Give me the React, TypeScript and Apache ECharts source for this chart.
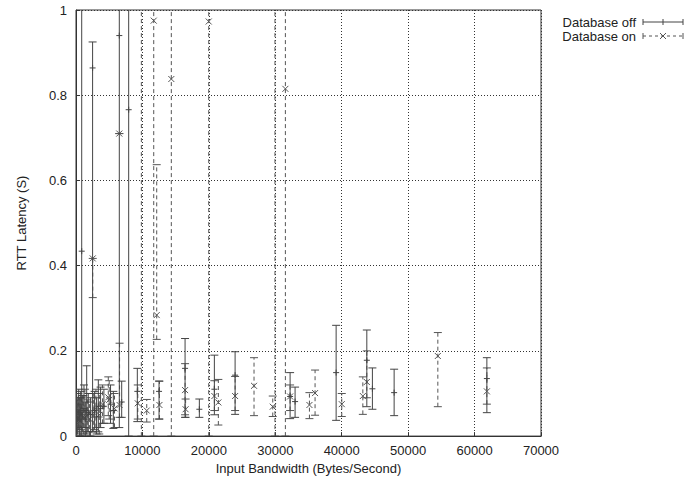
import React, { useEffect, useRef } from "react";
import * as echarts from "echarts";

// [bandwidth (bytes/s), mean RTT (s), low (s), high (s)]
const dbOffPoints: number[][] = [
  [100, 0.05, 0.01, 0.1],
  [250, 0.04, 0.005, 0.085],
  [400, 0.055, 0.015, 0.11],
  [550, 0.045, 0.0, 0.09],
  [700, 0.06, 0.02, 0.105],
  [860, 0.434, 0.0, 1.3],
  [950, 0.05, 0.01, 0.095],
  [1200, 0.065, 0.02, 0.12],
  [1400, 0.04, 0.0, 0.08],
  [1610, 0.06, 0.005, 0.165],
  [1850, 0.055, 0.01, 0.1],
  [2200, 0.05, 0.0, 0.09],
  [2500, 0.864, 0.01, 0.925],
  [2800, 0.06, 0.015, 0.105],
  [3100, 0.045, 0.005, 0.09],
  [3360, 0.07, 0.01, 0.132],
  [3700, 0.065, 0.02, 0.115],
  [4200, 0.07, 0.03, 0.11],
  [5200, 0.075, 0.03, 0.12],
  [5620, 0.06, 0.018, 0.105],
  [6520, 0.94, 0.02, 1.3],
  [6880, 0.08, 0.044, 0.129],
  [7930, 0.766, 0.0, 1.3],
  [9230, 0.105, 0.034, 0.159],
  [12500, 0.105, 0.04, 0.129],
  [16420, 0.159, 0.044, 0.229],
  [18570, 0.063, 0.044, 0.087],
  [20830, 0.11, 0.05, 0.19],
  [23950, 0.143, 0.051, 0.198],
  [32230, 0.093, 0.041, 0.149],
  [32980, 0.081, 0.044, 0.115],
  [39160, 0.149, 0.037, 0.26],
  [43780, 0.178, 0.069, 0.249],
  [44620, 0.111, 0.063, 0.16],
  [47890, 0.102, 0.048, 0.157],
  [61850, 0.135, 0.055, 0.184],
];

const dbOnPoints: number[][] = [
  [150, 0.04, 0.0, 0.09],
  [350, 0.06, 0.02, 0.1],
  [600, 0.035, 0.0, 0.075],
  [800, 0.05, 0.015, 0.09],
  [1100, 0.045, 0.005, 0.095],
  [1350, 0.06, 0.02, 0.11],
  [1700, 0.05, 0.01, 0.085],
  [2050, 0.04, 0.0, 0.08],
  [2520, 0.417, 0.325, 0.417],
  [2600, 0.055, 0.01, 0.1],
  [3000, 0.065, 0.02, 0.11],
  [3500, 0.05, 0.005, 0.1],
  [4000, 0.075, 0.03, 0.12],
  [4860, 0.091, 0.048, 0.139],
  [5000, 0.085, 0.04, 0.13],
  [5800, 0.065, 0.02, 0.1],
  [6520, 0.71, 0.71, 0.71],
  [6560, 0.073, 0.044, 0.218],
  [9300, 0.077, 0.04, 0.12],
  [9840, 1.1, 0.0, 1.3],
  [10650, 0.06, 0.033, 0.086],
  [11700, 0.975, 0.0, 1.3],
  [12150, 0.284, 0.227, 0.637],
  [12560, 0.073, 0.04, 0.129],
  [14350, 0.838, 0.0, 1.3],
  [16420, 0.108, 0.05, 0.17],
  [16500, 0.063, 0.044, 0.087],
  [19980, 0.973, 0.0, 1.3],
  [20830, 0.094, 0.06, 0.13],
  [21430, 0.079, 0.026, 0.133],
  [23950, 0.094, 0.06, 0.14],
  [26800, 0.118, 0.048, 0.184],
  [29620, 0.069, 0.046, 0.094],
  [29950, 1.1, 0.0, 1.3],
  [31520, 0.815, 0.0, 1.3],
  [32230, 0.093, 0.06, 0.12],
  [35140, 0.073, 0.041, 0.102],
  [35990, 0.101, 0.049, 0.155],
  [40010, 0.075, 0.046, 0.1],
  [43180, 0.094, 0.051, 0.139],
  [43780, 0.127, 0.09, 0.2],
  [54470, 0.188, 0.069, 0.243],
  [61850, 0.105, 0.075, 0.16],
];

const xTicks = [0, 10000, 20000, 30000, 40000, 50000, 60000, 70000];
const yTicks = [0, 0.2, 0.4, 0.6, 0.8, 1];
const seriesNames = ["Database off", "Database on"];

const FONT = "'Liberation Sans', Arial, Helvetica, sans-serif";
const OFF_COLOR = "#444";
const ON_COLOR = "#555";

function makeRender(kind: "off" | "on", color: string) {
  return (params: any, api: any) => {
    const x = api.value(0);
    const m = api.value(1);
    const lo = api.value(2);
    const hi = api.value(3);
    const cs = params.coordSys;
    const top = cs.y;
    const bottom = cs.y + cs.height;
    const pLo = api.coord([x, lo]);
    const pHi = api.coord([x, hi]);
    const pM = api.coord([x, m]);
    const px = pLo[0];
    const yLo = Math.min(bottom, pLo[1]);
    const yHi = Math.max(top, pHi[1]);
    const dash = kind === "on" ? [4, 3] : null;
    const style: any = { stroke: color, lineWidth: 1, fill: null };
    const dashed: any = { ...style, lineDash: dash };
    const children: any[] = [
      { type: "line", shape: { x1: px, y1: yLo, x2: px, y2: yHi }, style: dashed },
    ];
    const cap = 4;
    if (pLo[1] <= bottom + 0.5) {
      children.push({ type: "line", shape: { x1: px - cap, y1: pLo[1], x2: px + cap, y2: pLo[1] }, style });
    }
    if (pHi[1] >= top - 0.5) {
      children.push({ type: "line", shape: { x1: px - cap, y1: pHi[1], x2: px + cap, y2: pHi[1] }, style });
    }
    if (pM[1] >= top && pM[1] <= bottom) {
      if (kind === "off") {
        children.push({ type: "line", shape: { x1: px - 3, y1: pM[1], x2: px + 3, y2: pM[1] }, style });
        children.push({ type: "line", shape: { x1: px, y1: pM[1] - 3, x2: px, y2: pM[1] + 3 }, style });
      } else {
        const s = 3;
        children.push({ type: "line", shape: { x1: px - s, y1: pM[1] - s, x2: px + s, y2: pM[1] + s }, style });
        children.push({ type: "line", shape: { x1: px - s, y1: pM[1] + s, x2: px + s, y2: pM[1] - s }, style });
      }
    }
    return { type: "group", children };
  };
}

function legendKey(y: number, kind: "off" | "on", color: string): any[] {
  const x1 = 643;
  const x2 = 683;
  const cx = (x1 + x2) / 2;
  const style: any = { stroke: color, lineWidth: 1 };
  const items: any[] = [
    { type: "line", shape: { x1, y1: y, x2, y2: y }, style: { ...style, lineDash: kind === "on" ? [3, 3] : null } },
    { type: "line", shape: { x1, y1: y - 3, x2: x1, y2: y + 3 }, style },
    { type: "line", shape: { x1: x2, y1: y - 3, x2, y2: y + 3 }, style },
  ];
  if (kind === "off") {
    items.push({ type: "line", shape: { x1: cx, y1: y - 3, x2: cx, y2: y + 3 }, style });
  } else {
    items.push({ type: "line", shape: { x1: cx - 3, y1: y - 3, x2: cx + 3, y2: y + 3 }, style });
    items.push({ type: "line", shape: { x1: cx - 3, y1: y + 3, x2: cx + 3, y2: y - 3 }, style });
  }
  return items;
}

export default function App() {
  const ref = useRef<HTMLDivElement>(null);
  useEffect(() => {
    document.body.style.margin = "0";
    if (!ref.current) return;
    const chart = echarts.init(ref.current, null, { renderer: "svg" });
    const option: any = {
      animation: false,
      backgroundColor: "#fff",
      grid: {
        left: 76,
        right: 153,
        top: 10,
        bottom: 43,
        show: true,
        borderColor: "#333",
        borderWidth: 1,
      },
      xAxis: {
        type: "value",
        min: xTicks[0],
        max: xTicks[xTicks.length - 1],
        interval: xTicks[1] - xTicks[0],
        name: "Input Bandwidth (Bytes/Second)",
        nameLocation: "middle",
        nameGap: 23,
        nameTextStyle: { fontFamily: FONT, fontSize: 13, color: "#222" },
        axisLine: { show: true, lineStyle: { color: "#333" } },
        axisTick: { show: true, inside: true, length: 4, lineStyle: { color: "#333" } },
        axisLabel: {
          fontFamily: FONT,
          fontSize: 13,
          color: "#222",
          margin: 8,
          formatter: (v: number) => String(v),
        },
        splitLine: { show: true, lineStyle: { color: "#333", type: [1, 2], width: 1 } },
      },
      yAxis: {
        type: "value",
        min: yTicks[0],
        max: yTicks[yTicks.length - 1],
        interval: yTicks[1] - yTicks[0],
        name: "RTT Latency (S)",
        nameLocation: "middle",
        nameGap: 48,
        nameTextStyle: { fontFamily: FONT, fontSize: 13, color: "#222" },
        axisLine: { show: true, lineStyle: { color: "#333" } },
        axisTick: { show: true, inside: true, length: 4, lineStyle: { color: "#333" } },
        axisLabel: {
          fontFamily: FONT,
          fontSize: 13,
          color: "#222",
          margin: 9,
          formatter: (v: number) => String(parseFloat(v.toFixed(1))),
        },
        splitLine: { show: true, lineStyle: { color: "#333", type: [1, 2], width: 1 } },
      },
      series: [
        {
          name: seriesNames[1],
          type: "custom",
          renderItem: makeRender("on", ON_COLOR),
          data: dbOnPoints,
          encode: { x: 0, y: [1, 2, 3] },
          clip: true,
          silent: true,
          z: 2,
        },
        {
          name: seriesNames[0],
          type: "custom",
          renderItem: makeRender("off", OFF_COLOR),
          data: dbOffPoints,
          encode: { x: 0, y: [1, 2, 3] },
          clip: true,
          silent: true,
          z: 3,
        },
      ],
      graphic: [
        {
          type: "text",
          x: 636,
          y: 22,
          style: { text: seriesNames[0], textAlign: "right", textVerticalAlign: "middle", font: `13px ${FONT}`, fill: "#222" },
        },
        {
          type: "text",
          x: 636,
          y: 36,
          style: { text: seriesNames[1], textAlign: "right", textVerticalAlign: "middle", font: `13px ${FONT}`, fill: "#222" },
        },
        ...legendKey(22, "off", OFF_COLOR),
        ...legendKey(36, "on", ON_COLOR),
      ],
    };
    chart.setOption(option);
    return () => chart.dispose();
  }, []);
  return <div ref={ref} style={{ width: 694, height: 480 }} />;
}
